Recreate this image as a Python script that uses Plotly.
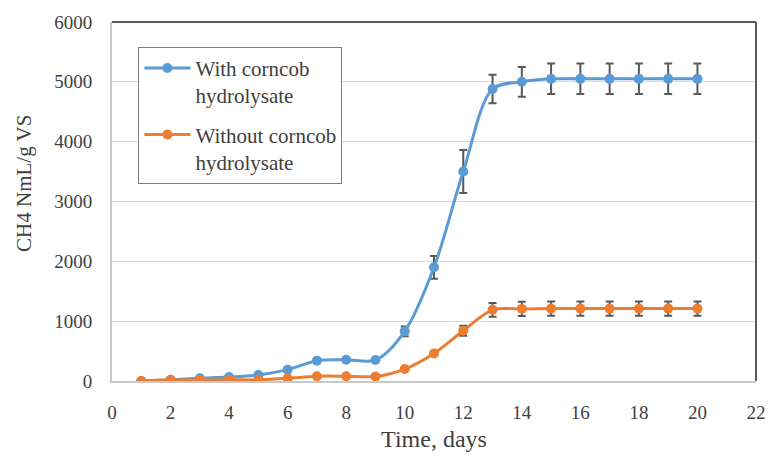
import plotly.graph_objects as go

# Cumulative methane yield over the digestion period
days = list(range(1, 21))
with_hydrolysate = [0, 20, 45, 65, 100, 190, 340, 355, 350, 830, 1900, 3500,
                    4880, 5000, 5050, 5050, 5050, 5050, 5050, 5050]
with_err = [None] * 9 + [80, 190, 360, 240, 250, 255, 255, 255, 255, 255, 255]
without_hydrolysate = [0, 15, 15, 20, 20, 45, 80, 80, 75, 200, 460, 840,
                       1190, 1205, 1210, 1210, 1210, 1210, 1210, 1210]
without_err = [None] * 10 + [40, 85, 115, 120, 120, 120, 120, 120, 120, 120]

series_names = ["With corncob<br>hydrolysate", "Without corncob<br>hydrolysate"]
x_ticks = list(range(0, 23, 2))
y_ticks = list(range(0, 6001, 1000))

BLUE = "#5B9BD5"
ORANGE = "#ED7D31"
ERR = "#595959"
FONT = "Liberation Serif"

fig = go.Figure()
for i, (name, vals, err, color) in enumerate([
    (series_names[0], with_hydrolysate, with_err, BLUE),
    (series_names[1], without_hydrolysate, without_err, ORANGE),
]):
    fig.add_trace(go.Scatter(
        x=days, y=vals, name=name, mode="lines+markers",
        legendgroup=f"g{i}",
        line=dict(color=color, width=3, shape="spline", smoothing=0.9),
        marker=dict(color=color, size=10),
        error_y=dict(type="data", array=err, visible=True,
                     color=ERR, thickness=2, width=4),
    ))

fig.update_layout(
    width=777, height=459,
    margin=dict(l=112, r=11, t=22, b=75),
    paper_bgcolor="white", plot_bgcolor="white",
    font=dict(family=FONT, size=19, color="#404040"),
    showlegend=True,
    legend=dict(
        x=0.041, y=0.931, xanchor="left", yanchor="top",
        bordercolor="#7F7F7F", borderwidth=1, bgcolor="white",
        font=dict(family=FONT, size=21, color="#404040"),
        valign="top", itemwidth=46, tracegroupgap=9,
    ),
    xaxis=dict(
        range=[0, 22], tickvals=x_ticks, showgrid=False, zeroline=False,
        showline=True, linecolor="#C8C8C8", linewidth=2,
        ticks="", ticklabelstandoff=13,
        title=dict(text="Time, days", font=dict(size=24), standoff=8),
    ),
    yaxis=dict(
        range=[0, 6000], tickvals=y_ticks, showgrid=True, gridcolor="#D9D9D9",
        gridwidth=1, zeroline=False,
        showline=True, linecolor="#C8C8C8", linewidth=2,
        ticks="", ticklabelstandoff=14,
    ),
    annotations=[
        dict(text="CH4 NmL/g VS", textangle=-90, showarrow=False,
             xref="paper", yref="paper", x=-0.1376, y=0.55,
             xanchor="center", yanchor="middle",
             font=dict(family=FONT, size=21, color="#404040")),
    ],
    shapes=[
        dict(type="line", xref="paper", yref="paper", x0=0, x1=1, y0=1, y1=1,
             line=dict(color="#595959", width=2)),
        dict(type="line", xref="paper", yref="paper", x0=1, x1=1, y0=0, y1=1,
             line=dict(color="#595959", width=2)),
    ],
)

fig.write_html("out.html")
